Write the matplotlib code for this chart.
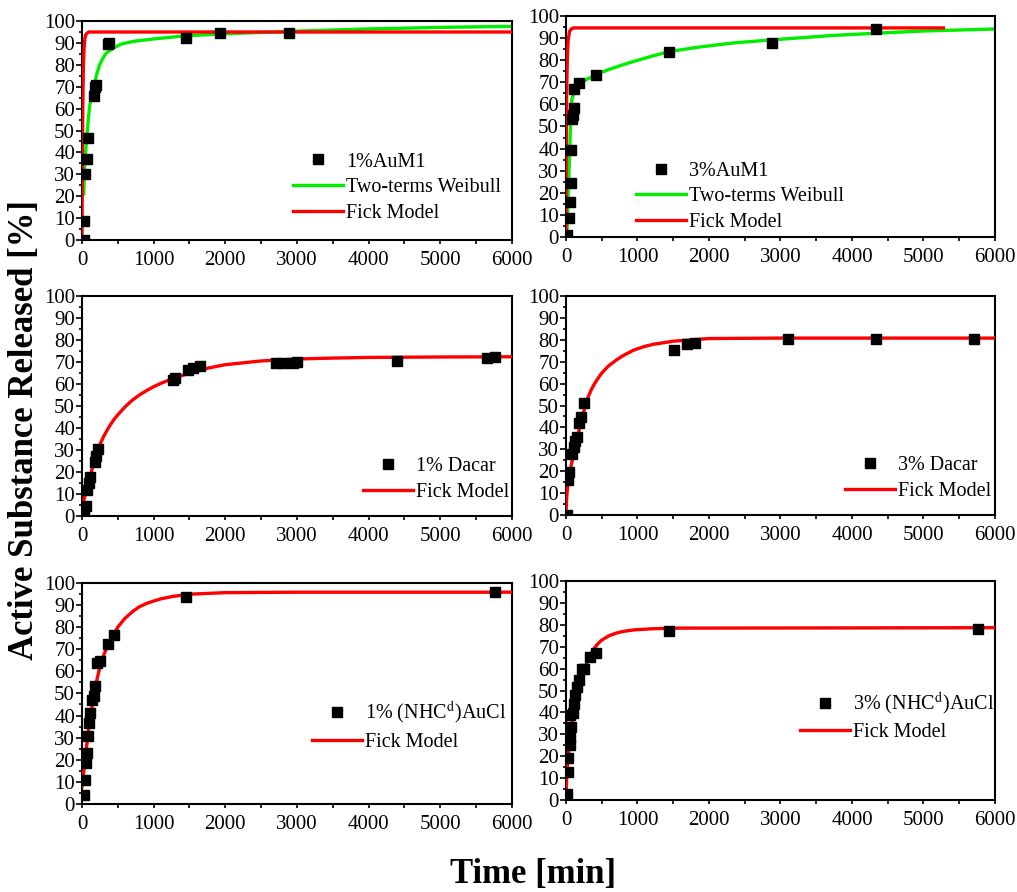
import matplotlib
matplotlib.use("Agg")
import matplotlib.pyplot as plt
from matplotlib.ticker import MultipleLocator

plt.rcParams['font.family'] = ['Liberation Serif', 'DejaVu Serif']
plt.rcParams['mathtext.fontset'] = 'stix'

# ---- data ----
# 1% AuM1
aum1_1_t = [28, 28, 47, 70, 79, 163, 186, 200, 363, 380, 1455, 1930, 2883]
aum1_1_y = [0, 8.7, 30, 37, 46.8, 66, 70, 71, 89.5, 90, 92.2, 94.5, 94.5]
aum1_1_weib_t = [25, 40, 60, 80, 107, 130, 163, 200, 246, 300, 340, 433, 550, 712, 991, 1455, 2000, 3000, 4000, 5000, 6000]
aum1_1_weib_y = [21, 35, 44, 52, 61, 65, 68.6, 75, 80, 83.5, 85.4, 87.6, 89.5, 90.7, 91.8, 93.3, 94.2, 95.4, 96.4, 97.1, 97.6]
aum1_1_fick_t = [0, 5, 10, 15, 20, 30, 40, 50, 70, 100, 6000]
aum1_1_fick_y = [0, 30, 55, 70, 80, 88, 92, 93.5, 94.5, 95, 95]

# 3% AuM1
aum1_3_t = [14, 37, 51, 65, 65, 84, 95, 116, 107, 177, 419, 1444, 2880, 4334]
aum1_3_y = [1, 8.6, 15.8, 24.4, 39.5, 53.3, 55, 58.3, 66.9, 69.6, 73.2, 83.7, 87.7, 94.1]
aum1_3_weib_t = [14, 37, 60, 75, 84, 120, 154, 200, 250, 300, 400, 480, 600, 713, 830, 946, 1179, 1444, 1878, 2344, 2880, 3742, 4334, 5000, 6000]
aum1_3_weib_y = [2, 24, 47, 59, 62.5, 66, 68, 69.3, 70.5, 71.5, 73, 74.2, 75.8, 77, 78.3, 79.4, 81.6, 83.9, 86, 87.8, 89.2, 91.2, 92.2, 93.2, 94.1]
aum1_3_fick_t = [0, 5, 10, 20, 30, 50, 80, 120, 5280]
aum1_3_fick_y = [0, 40, 65, 82, 89, 93, 94.3, 94.6, 94.6]

# 1% Dacar
dacar_1_t = [23, 51, 70, 98, 116, 177, 200, 223, 1270, 1293, 1479, 1549, 1642, 2711, 2800, 2942, 3003, 4395, 5650, 5757]
dacar_1_y = [0.5, 4.5, 12, 14.8, 17.6, 24.7, 27.3, 30.3, 61.8, 62.6, 66.4, 67.2, 68, 69.4, 69.4, 69.7, 69.9, 70.5, 71.7, 72.1]
dacar_1_fick_t = [0, 25, 50, 100, 150, 200, 250, 300, 350, 400, 450, 500, 600, 700, 800, 900, 1000, 1100, 1250, 1500, 1750, 2000, 2500, 3000, 3500, 4000, 5000, 6000]
dacar_1_fick_y = [2.5, 7, 10.5, 16, 22.5, 28, 32.5, 36, 39, 41.7, 44, 46, 49.6, 52.6, 55, 57, 58.8, 60.3, 62.3, 65, 67.2, 68.8, 70.5, 71.4, 71.8, 72.1, 72.3, 72.4]

# 3% Dacar
dacar_3_t = [9, 23, 37, 84, 107, 130, 154, 177, 210, 247, 1505, 1691, 1808, 3099, 4334, 5709]
dacar_3_y = [0, 16, 19.8, 28, 31.2, 34, 35.8, 41.9, 44.9, 51, 75.3, 77.9, 78.4, 80.4, 80.4, 80.4]
dacar_3_fick_t = [0, 10, 25, 50, 100, 150, 200, 250, 300, 350, 400, 480, 550, 600, 713, 800, 946, 1100, 1226, 1505, 2000, 3000, 6000]
dacar_3_fick_y = [0, 8, 14, 19, 27, 34, 41, 47.5, 53, 57, 60, 64, 66.6, 68.2, 71, 72.8, 75.3, 77, 78, 79.4, 80.6, 80.8, 80.8]

# 1% (NHC^d)AuCl
nhc_1_t = [23, 37, 51, 70, 84, 98, 116, 144, 163, 186, 209, 246, 363, 442, 1455, 5767]
nhc_1_y = [4.2, 11, 18.5, 23, 30.6, 36.7, 41.2, 47.2, 48.7, 53.5, 63.8, 64.6, 72.5, 76.6, 93.5, 95.8]
nhc_1_fick_t = [0, 25, 50, 100, 150, 200, 250, 300, 350, 433, 500, 600, 712, 800, 900, 991, 1100, 1250, 1500, 2000, 3000, 6000]
nhc_1_fick_y = [8, 15, 22, 36, 46, 55, 62, 67, 71, 76, 80, 84, 87.2, 89.2, 90.7, 91.7, 92.8, 93.8, 94.9, 95.6, 95.8, 95.8]

# 3% (NHC^d)AuCl
nhc_3_t = [14, 28, 28, 51, 61, 70, 61, 98, 116, 130, 154, 186, 224, 256, 340, 424, 1444, 5767]
nhc_3_y = [2.6, 12.9, 19, 25, 29, 33.5, 38.8, 39.6, 44, 48, 51.8, 54.8, 60, 60, 65.4, 67.3, 77.2, 78]
nhc_3_fick_t = [0, 10, 25, 50, 100, 150, 200, 250, 300, 350, 400, 450, 500, 600, 700, 800, 950, 1200, 1500, 6000]
nhc_3_fick_y = [0, 10, 18, 26, 38, 47, 54, 59, 63.3, 66.8, 69.5, 71.5, 73, 75, 76.2, 77, 77.7, 78.2, 78.5, 78.7]

labels = ['1%AuM1', '3%AuM1', '1% Dacar', '3% Dacar',
          '1% (NHC$^{\\mathrm{d}}$)AuCl', '3% (NHC$^{\\mathrm{d}}$)AuCl']

panels = [
    (aum1_1_t, aum1_1_y, (aum1_1_weib_t, aum1_1_weib_y), (aum1_1_fick_t, aum1_1_fick_y)),
    (aum1_3_t, aum1_3_y, (aum1_3_weib_t, aum1_3_weib_y), (aum1_3_fick_t, aum1_3_fick_y)),
    (dacar_1_t, dacar_1_y, None, (dacar_1_fick_t, dacar_1_fick_y)),
    (dacar_3_t, dacar_3_y, None, (dacar_3_fick_t, dacar_3_fick_y)),
    (nhc_1_t, nhc_1_y, None, (nhc_1_fick_t, nhc_1_fick_y)),
    (nhc_3_t, nhc_3_y, None, (nhc_3_fick_t, nhc_3_fick_y)),
]

# axes rectangles (figure fraction) and legend anchors (axes fraction)
rects = [
    [0.0806, 0.7309, 0.4228, 0.2455],
    [0.5565, 0.7343, 0.4218, 0.2478],
    [0.0806, 0.4215, 0.4228, 0.2466],
    [0.5565, 0.4226, 0.4218, 0.2455],
    [0.0806, 0.0987, 0.4228, 0.2478],
    [0.5565, 0.1031, 0.4218, 0.2455],
]
leg_anchor = [(0.49, 0.40), (0.163, 0.34), (0.653, 0.268), (0.65, 0.268), (0.535, 0.47), (0.545, 0.50)]

fig = plt.figure(figsize=(10.17, 8.92), dpi=100)

for i, (t, y, weib, fick) in enumerate(panels):
    ax = fig.add_axes(rects[i])
    ax.plot(t, y, 's', color='black', ms=7.5, zorder=4, label=labels[i])
    if weib is not None:
        ax.plot(weib[0], weib[1], color='#00ee00', lw=2.4, zorder=2, label='Two-terms Weibull')
    ax.plot(fick[0], fick[1], color='#ff0000', lw=2.4, zorder=3, label='Fick Model')

    ax.set_xlim(0, 6000)
    ax.set_ylim(0, 100)
    ax.xaxis.set_major_locator(MultipleLocator(1000))
    ax.xaxis.set_minor_locator(MultipleLocator(500))
    ax.yaxis.set_major_locator(MultipleLocator(10))
    ax.yaxis.set_minor_locator(MultipleLocator(5))
    ax.tick_params(which='both', direction='out', top=False, right=False, width=1.2, labelsize=15)
    ax.tick_params(axis='y', which='major', length=4, pad=1)
    ax.tick_params(axis='y', which='minor', length=2.5)
    ax.tick_params(axis='x', which='major', length=3, pad=5)
    ax.tick_params(axis='x', which='minor', length=3)
    for s in ax.spines.values():
        s.set_linewidth(1.5)

    ax.legend(loc='upper left', bbox_to_anchor=leg_anchor[i], borderaxespad=0, borderpad=0,
              frameon=False, fontsize=14.5, handlelength=2.5, handletextpad=0.15,
              labelspacing=0.32, numpoints=1)

fig.text(25 / 1017, 1 - 430 / 892, 'Active Substance Released [%]', rotation=90,
         ha='center', va='center', fontsize=25, fontweight='bold')
fig.text(533 / 1017, 1 - 874 / 892, 'Time [min]', ha='center', va='center',
         fontsize=25, fontweight='bold')

fig.savefig('out.png', dpi=100)
